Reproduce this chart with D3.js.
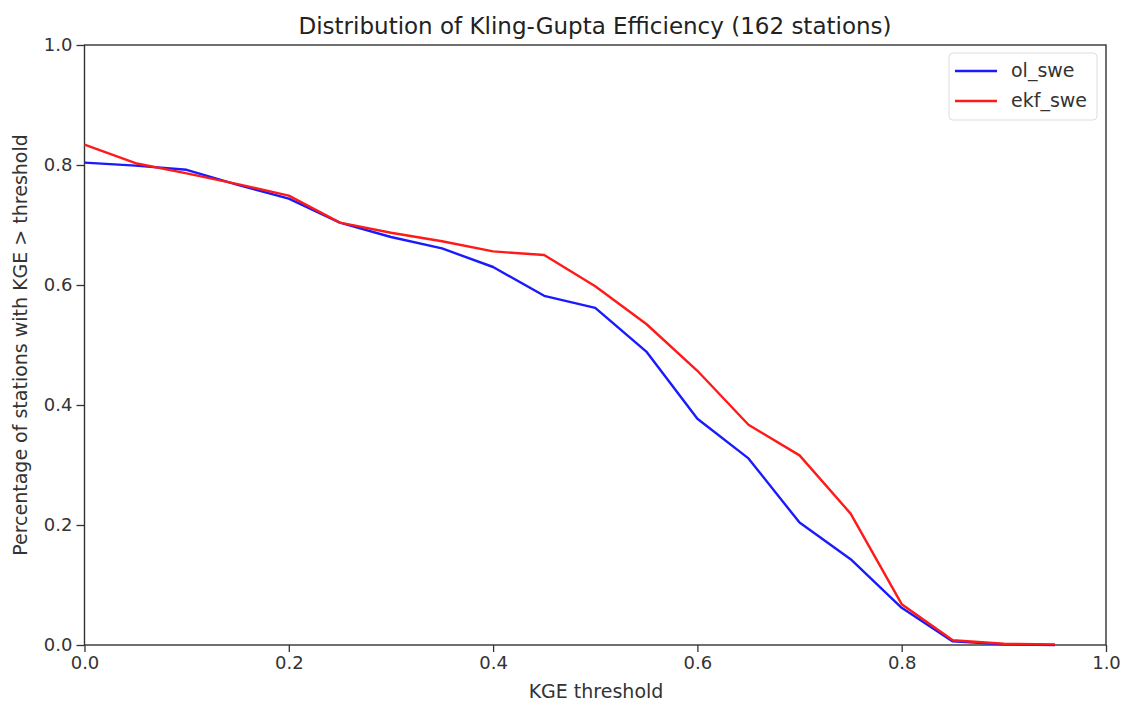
<!DOCTYPE html>
<html><head><meta charset="utf-8">
<script src="https://cdn.jsdelivr.net/npm/d3@7"></script>
<style>body{margin:0;background:#fff;} svg{display:block;font-family:"DejaVu Sans",sans-serif;}</style>
</head><body>
<svg id="chart" width="1124" height="704"></svg>
<script>
const thresholds = [0,0.05,0.1,0.15,0.2,0.25,0.3,0.35,0.4,0.45,0.5,0.55,0.6,0.65,0.7,0.75,0.8,0.85,0.9,0.95];
const olSwe  = [0.804,0.799,0.792,0.767,0.744,0.704,0.680,0.661,0.630,0.582,0.562,0.489,0.377,0.311,0.204,0.143,0.062,0.006,0.001,0.0];
const ekfSwe = [0.834,0.803,0.786,0.768,0.749,0.704,0.687,0.673,0.656,0.650,0.598,0.535,0.457,0.367,0.316,0.219,0.068,0.008,0.002,0.001];
const seriesNames = ["ol_swe","ekf_swe"];
const seriesColors = ["#1a1aff","#ff1a1a"];
const xTicks = [0,0.2,0.4,0.6,0.8,1.0];
const yTicks = [0,0.2,0.4,0.6,0.8,1.0];
const titleText = "Distribution of Kling-Gupta Efficiency (162 stations)";
const xLabel = "KGE threshold";
const yLabel = "Percentage of stations with KGE > threshold";

const svg = d3.select("#chart");
const m = {left:84.5, right:1106, top:45, bottom:645};
const x = d3.scaleLinear().domain([0,1]).range([m.left,m.right]);
const y = d3.scaleLinear().domain([0,1]).range([m.bottom,m.top]);

const xAxis = svg.append("g").attr("transform",`translate(0,${m.bottom})`)
  .call(d3.axisBottom(x).tickValues(xTicks).tickFormat(d3.format(".1f")).tickSize(7).tickPadding(4));
const yAxis = svg.append("g").attr("transform",`translate(${m.left},0)`)
  .call(d3.axisLeft(y).tickValues(yTicks).tickFormat(d3.format(".1f")).tickSize(8).tickPadding(4));
[xAxis,yAxis].forEach(g=>{
  g.select(".domain").remove();
  g.selectAll("line").attr("stroke","#333").attr("stroke-width",1.3);
  g.selectAll("text").attr("font-size",18).attr("fill","#333").attr("font-family","DejaVu Sans");
});
svg.append("rect").attr("x",m.left).attr("y",m.top).attr("width",m.right-m.left).attr("height",m.bottom-m.top)
  .attr("fill","none").attr("stroke","#333").attr("stroke-width",1.4);

const line = d3.line().x((d,i)=>x(thresholds[i])).y(d=>y(d));
[olSwe,ekfSwe].forEach((s,k)=>{
  svg.append("path").datum(s).attr("d",line).attr("fill","none")
    .attr("stroke",seriesColors[k]).attr("stroke-width",2.4).attr("stroke-linejoin","round");
});

svg.append("text").attr("x",595).attr("y",34).attr("text-anchor","middle")
  .attr("font-size",23).attr("fill","#222").text(titleText);
svg.append("text").attr("x",596).attr("y",698).attr("text-anchor","middle")
  .attr("font-size",19).attr("fill","#333").text(xLabel);
svg.append("text").attr("transform",`translate(27,${(m.top+m.bottom)/2}) rotate(-90)`).attr("text-anchor","middle")
  .attr("font-size",19).attr("fill","#333").text(yLabel);

const lg = svg.append("g");
lg.append("rect").attr("x",949).attr("y",53).attr("width",148).attr("height",67).attr("rx",4)
  .attr("fill","#fff").attr("stroke","#ddd").attr("stroke-width",1);
seriesNames.forEach((n,k)=>{
  const yy = 71 + k*30;
  lg.append("line").attr("x1",955).attr("x2",997).attr("y1",yy).attr("y2",yy)
    .attr("stroke",seriesColors[k]).attr("stroke-width",2.4);
  lg.append("text").attr("x",1011).attr("y",yy+6).attr("font-size",19).attr("fill","#333").text(n);
});
</script>
</body></html>
